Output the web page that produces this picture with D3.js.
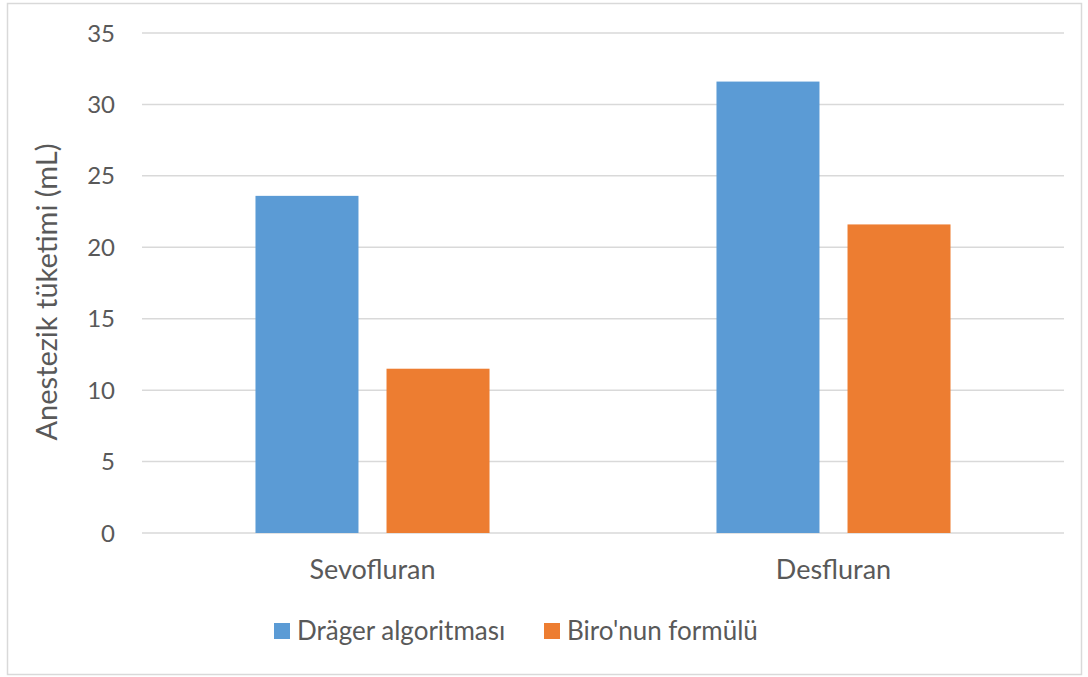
<!DOCTYPE html>
<html>
<head>
<meta charset="utf-8">
<script src="https://cdn.jsdelivr.net/npm/d3@7"></script>
<style>
  body { margin: 0; background: #fff; }
  text { font-family: Lato, "Open Sans", sans-serif; fill: #595959; }
</style>
</head>
<body>
<div id="chart"></div>
<script>
// chart data
const categories = ["Sevofluran", "Desfluran"];
const seriesNames = ["Dräger algoritması", "Biro'nun formülü"];
const dragerValues = [23.6, 31.6];
const biroValues = [11.5, 21.6];
const yTicks = [0, 5, 10, 15, 20, 25, 30, 35];

const colors = ["#5b9bd5", "#ed7d31"];
const width = 1088, height = 677;
const plot = { left: 142, right: 1064, top: 33, bottom: 533 };

const svg = d3.select("#chart").append("svg")
  .attr("width", width).attr("height", height);

// outer border
svg.append("rect")
  .attr("x", 7.5).attr("y", 3.5)
  .attr("width", 1074).attr("height", 671)
  .attr("fill", "none").attr("stroke", "#d9d9d9").attr("stroke-width", 1.5);

const y = d3.scaleLinear().domain([0, 35]).range([plot.bottom, plot.top]);
const x0 = d3.scaleBand().domain(categories).range([plot.left, plot.right]);
const x1 = d3.scaleBand().domain(seriesNames).range([0, x0.bandwidth()])
  .paddingInner(0.214).paddingOuter(0.866);

// gridlines
svg.append("g").selectAll("line").data(yTicks).enter().append("line")
  .attr("x1", plot.left).attr("x2", plot.right)
  .attr("y1", d => y(d)).attr("y2", d => y(d))
  .attr("stroke", "#d9d9d9").attr("stroke-width", 1.5);

// y tick labels
svg.append("g").selectAll("text").data(yTicks).enter().append("text")
  .attr("x", 115).attr("y", d => y(d)).attr("dy", "0.36em")
  .attr("text-anchor", "end").style("font-size", "24px")
  .text(d => d);

// bars
const rows = categories.map((c, i) => ({ cat: c, vals: [dragerValues[i], biroValues[i]] }));
const groups = svg.append("g").selectAll("g").data(rows).enter().append("g")
  .attr("transform", d => `translate(${x0(d.cat)},0)`);
groups.selectAll("rect")
  .data(d => d.vals.map((v, j) => ({ name: seriesNames[j], v, j })))
  .enter().append("rect")
  .attr("x", d => x1(d.name)).attr("width", x1.bandwidth())
  .attr("y", d => y(d.v)).attr("height", d => y(0) - y(d.v))
  .attr("fill", d => colors[d.j]);

// category labels
svg.append("g").selectAll("text").data(categories).enter().append("text")
  .attr("x", d => x0(d) + x0.bandwidth() / 2).attr("y", 579)
  .attr("text-anchor", "middle").style("font-size", "27px")
  .text(d => d);

// y axis title
svg.append("text")
  .attr("transform", `translate(57,${(plot.top + plot.bottom) / 2 + 9}) rotate(-90)`)
  .attr("text-anchor", "middle").style("font-size", "29px")
  .text("Anestezik tüketimi (mL)");

// legend
const legendX = [274, 544];
const legend = svg.append("g").selectAll("g").data(seriesNames).enter().append("g")
  .attr("transform", (d, i) => `translate(${legendX[i]},623)`);
legend.append("rect").attr("width", 16).attr("height", 16)
  .attr("fill", (d, i) => colors[i]);
legend.append("text").attr("x", 23).attr("y", 8).attr("dy", "0.36em")
  .style("font-size", "26px").text(d => d);
</script>
</body>
</html>
